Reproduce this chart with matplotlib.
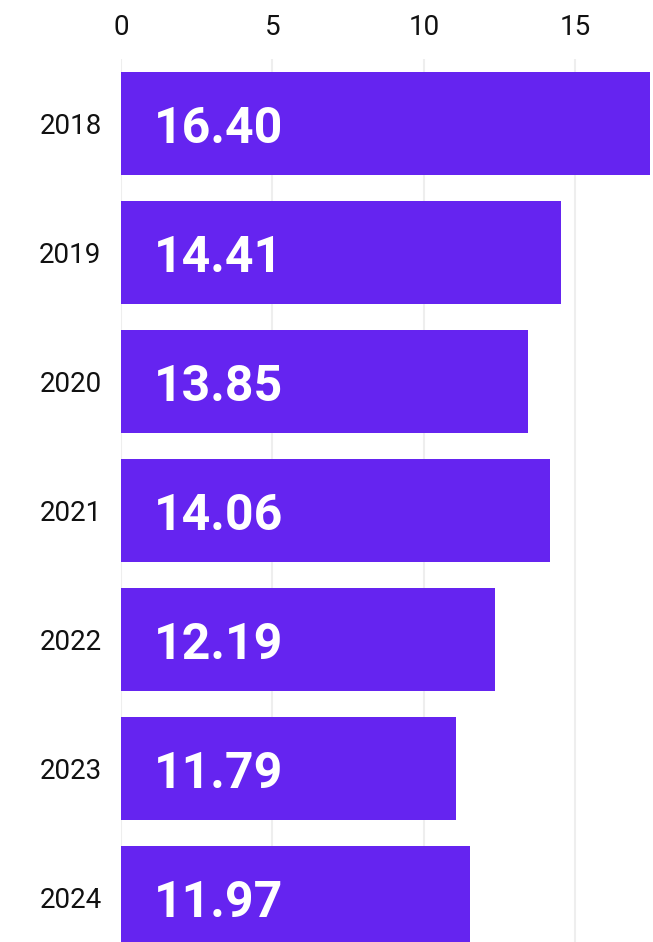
import matplotlib.pyplot as plt

plt.rcParams['font.family'] = ['Roboto', 'DejaVu Sans']

# Daten aus dem Bild
years = ['2018', '2019', '2020', '2021', '2022', '2023', '2024']
bar_values = [17.45, 14.52, 13.43, 14.16, 12.34, 11.06, 11.52]
bar_labels = ['16.40', '14.41', '13.85', '14.06', '12.19', '11.79', '11.97']
x_ticks = [0, 5, 10, 15]

bar_color = '#6524F0'

fig = plt.figure(figsize=(6.53, 9.42), dpi=100)
ax = fig.add_axes([121 / 653, 0, 1 - 121 / 653, 1 - 59 / 942])

pos = list(range(len(years)))
ax.barh(pos, bar_values, height=0.8, color=bar_color, zorder=2)

for p, v, lab in zip(pos, bar_values, bar_labels):
    ax.annotate(lab, xy=(0, p), xytext=(24, -4), textcoords='offset points',
                ha='left', va='center', color='white', fontsize=36,
                fontweight='bold', zorder=3)

ax.set_xlim(0, 17.56)
ax.set_ylim(6.345, -0.5)

ax.set_yticks(pos)
ax.set_yticklabels(years, fontsize=20, color='#111111')
ax.set_xticks(x_ticks)
ax.set_xticklabels([str(t) for t in x_ticks], fontsize=20, color='#111111')
ax.xaxis.tick_top()
ax.tick_params(axis='x', length=0, pad=13)
ax.tick_params(axis='y', length=0, pad=14)

ax.grid(axis='x', color='#eeeeee', linewidth=1.5, zorder=0)
ax.set_axisbelow(True)
for s in ax.spines.values():
    s.set_visible(False)

fig.savefig('out.png', dpi=100)
